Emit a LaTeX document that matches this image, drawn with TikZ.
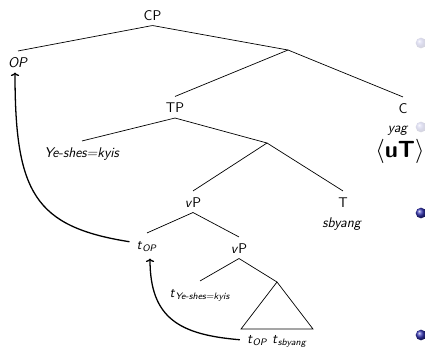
\documentclass[tikz,border=0pt]{standalone}
\usepackage{fontspec}
\usetikzlibrary{arrows.meta}
\definecolor{ballblue}{rgb}{0.2,0.2,0.7}
\newcommand{\trc}[1]{\textit{t}\textsubscript{\textit{#1}}}

\begin{document}
\begin{tikzpicture}[x=0.3mm,y=-0.3mm,
    every node/.style={font=\sffamily\fontsize{12}{14}\selectfont,inner sep=0pt,anchor=base,
      text height=13.5pt,text depth=4.5pt},
    branch/.style={line width=0.6pt},
    move/.style={-{To[length=3pt,width=7pt]},line width=1.1pt}]
  \useasboundingbox (0,0) rectangle (425,349);

  % labels of the tree
  \node (cp) at (152.5,20) {CP};
  \node (op) at (18,67) {\textit{OP}};
  \node (tp) at (175,112.5) {TP};
  \node (c) at (403,113) {C};
  \node (yk) at (82,157) {\textit{Ye-shes=kyis}};
  \node (vpa) at (193,207) {\textit{v}P};
  \node (t) at (343,207) {T};
  \node (sby) at (342,227) {\textit{sbyang}};
  \node (topa) at (147,249) {\trc{OP}};
  \node (vpb) at (239,253) {\textit{v}P};
  \node (tyk) at (200,297) {\trc{Ye-shes=kyis}};
  \node (tsb) at (277,343) {\trc{OP} \trc{sbyang}};
  \node (yag) at (398,132) {\textit{yag}};
  \node[font=\sffamily\fontsize{20}{24}\selectfont] (ut) at (400,157) {$\langle$\textbf{uT}$\rangle$};

  \coordinate (b1) at (288,50);
  \coordinate (b2) at (267,143);
  \coordinate (apex) at (277,282);
  \coordinate (tl) at (241,329);
  \coordinate (tr) at (313,329);

  % branches
  \draw[branch] (cp.south) -- (op.north);
  \draw[branch] (cp.south) -- (b1);
  \draw[branch] (b1) -- (tp.north);
  \draw[branch] (b1) -- (c.north);
  \draw[branch] (tp.south) -- (yk.north);
  \draw[branch] (tp.south) -- (b2);
  \draw[branch] (b2) -- (vpa.north);
  \draw[branch] (b2) -- (t.north);
  \draw[branch] (vpa.south) -- (topa.north);
  \draw[branch] (vpa.south) -- (vpb.north);
  \draw[branch] (vpb.south) -- (tyk.north);
  \draw[branch] (vpb.south) -- (apex);
  \draw[branch] (apex) -- (tl) -- (tr) -- cycle;

  % movement arrows
  \draw[move] ([shift={(-7,-2)}]topa.west) .. controls +(-95,-15) and +(0,120) .. ([shift={(-3,0)}]op.south);
  \draw[move] ([shift={(-7,2)}]tsb.west) .. controls +(-60,-5) and +(0,60) .. ([shift={(3,4)}]topa.south);

  % item bullets at the edge
  \shade[ball color=ballblue,opacity=0.18] (421,43) circle[radius=1.6mm];
  \shade[ball color=ballblue,opacity=0.18] (421,127) circle[radius=1.6mm];
  \shade[ball color=ballblue] (421,213) circle[radius=1.6mm];
  \shade[ball color=ballblue] (421,335) circle[radius=1.6mm];
\end{tikzpicture}
\end{document}
